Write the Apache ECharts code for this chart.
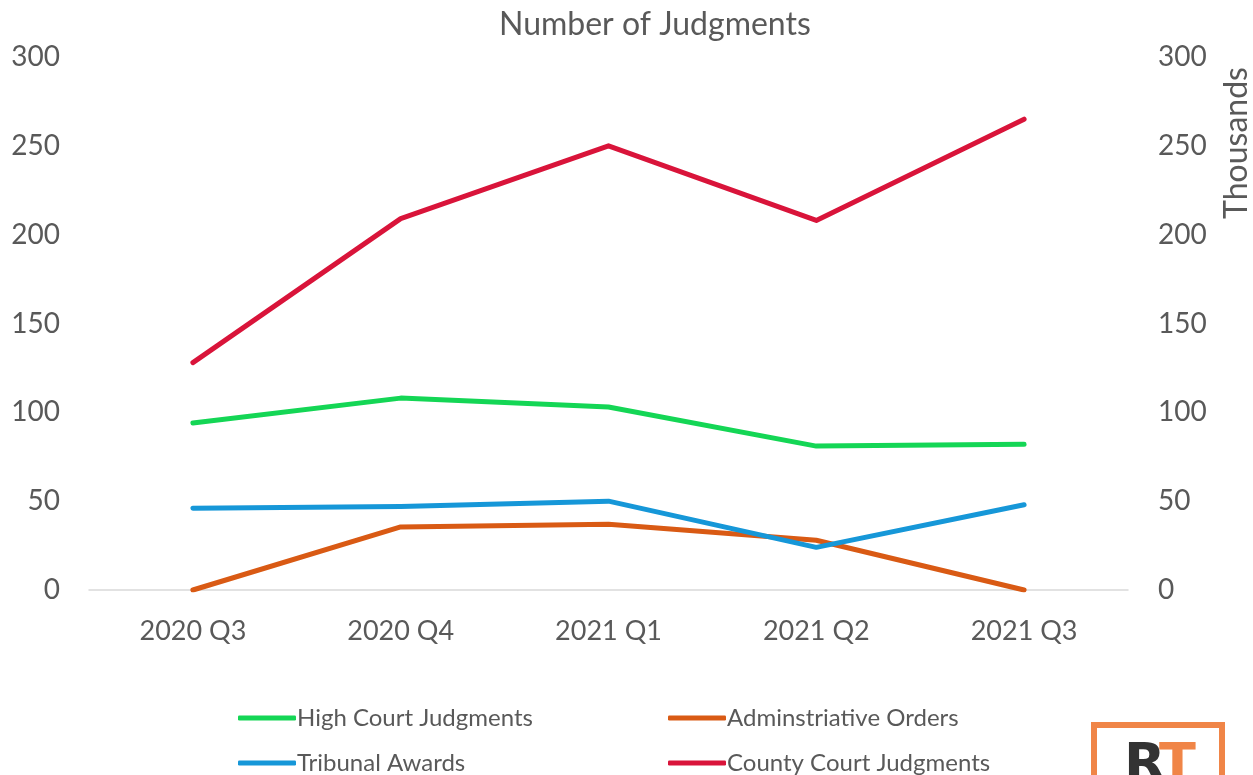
<!DOCTYPE html>
<html>
<head>
<meta charset="utf-8">
<script src="https://cdn.jsdelivr.net/npm/echarts@6/dist/echarts.min.js"></script>
<style>
  html, body { margin: 0; padding: 0; background: #fff; }
  #chart { width: 1253px; height: 775px; }
</style>
</head>
<body>
<div id="chart"></div>
<script>
var quarters = ['2020 Q3', '2020 Q4', '2021 Q1', '2021 Q2', '2021 Q3']
var highCourt = [94, 108, 103, 81, 82]
var adminOrders = [0, 35.5, 37, 28, 0]
var tribunal = [46, 47, 50, 24, 48]
var countyCourt = [128, 209, 250, 208, 265]

var grey = '#595959'
var font = 'Lato, "Open Sans", sans-serif'

var lineSeries = function (name, data, color) {
  return {
    name: name,
    type: 'line',
    data: data,
    symbol: 'none',
    yAxisIndex: 0,
    lineStyle: { color: color, width: 5, cap: 'round', join: 'round' },
    itemStyle: { color: color }
  }
}

// one legend per item so the two columns line up like the original
var legendItem = function (name, left, top) {
  return {
    left: left,
    top: top,
    padding: 0,
    itemWidth: 58,
    itemHeight: 5,
    icon: 'roundRect',
    textStyle: { color: grey, fontSize: 24, padding: [0, 0, 0, -4] },
    data: [name]
  }
}

var myChart = echarts.init(document.getElementById('chart'))
var option = {
  animation: false,
  textStyle: { fontFamily: font },
  title: {
    text: 'Number of Judgments',
    left: 494,
    top: 4,
    textStyle: { color: grey, fontSize: 32, fontWeight: 'normal', fontFamily: font }
  },
  grid: { left: 89, right: 125, top: 57, bottom: 185 },
  legend: [
    legendItem('High Court Judgments', 238, 706),
    legendItem('Adminstriative Orders', 668, 706),
    legendItem('Tribunal Awards', 238, 751),
    legendItem('County Court Judgments', 668, 751)
  ],
  xAxis: {
    type: 'category',
    data: quarters,
    boundaryGap: true,
    axisLine: { show: true, lineStyle: { color: '#d9d9d9', width: 1.5 } },
    axisTick: { show: false },
    axisLabel: { color: grey, fontSize: 27, margin: 28 }
  },
  yAxis: [
    {
      type: 'value',
      min: 0,
      max: 300,
      interval: 50,
      position: 'left',
      splitLine: { show: false },
      axisLine: { show: false },
      axisTick: { show: false },
      axisLabel: { color: grey, fontSize: 28, margin: 29 }
    },
    {
      type: 'value',
      min: 0,
      max: 300,
      interval: 50,
      position: 'right',
      splitLine: { show: false },
      axisLine: { show: false },
      axisTick: { show: false },
      axisLabel: { color: grey, fontSize: 28, margin: 30 }
    }
  ],
  graphic: [
    {
      type: 'text',
      x: 1237,
      y: 143,
      rotation: Math.PI / 2,
      style: {
        text: 'Thousands',
        fill: grey,
        font: '32px ' + font,
        align: 'center',
        verticalAlign: 'middle'
      }
    },
    {
      type: 'rect',
      shape: { x: 1094, y: 725, width: 128, height: 70 },
      style: { fill: 'none', stroke: '#f08547', lineWidth: 6 }
    },
    {
      type: 'text',
      x: 1124,
      y: 740,
      style: { text: 'R', fill: '#333333', font: 'bold 54px "DejaVu Sans", sans-serif' }
    },
    {
      type: 'text',
      x: 1159,
      y: 740,
      style: { text: 'T', fill: '#f08547', font: 'bold 54px "DejaVu Sans", sans-serif' }
    }
  ],
  series: [
    lineSeries('High Court Judgments', highCourt, '#14d655'),
    lineSeries('Adminstriative Orders', adminOrders, '#d95a14'),
    lineSeries('Tribunal Awards', tribunal, '#1697d8'),
    lineSeries('County Court Judgments', countyCourt, '#d9143a')
  ]
}

option && myChart.setOption(option)
</script>
</body>
</html>
